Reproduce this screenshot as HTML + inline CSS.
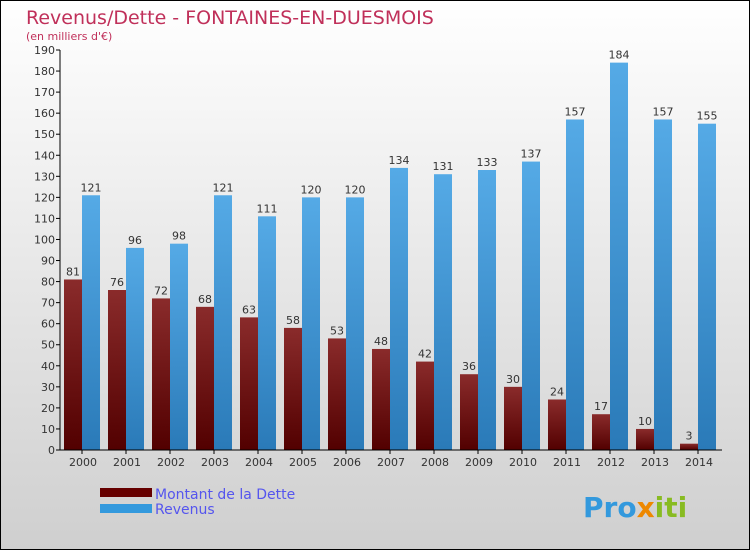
<!DOCTYPE html>
<html><head><meta charset="utf-8"><style>
body{margin:0}
svg{display:block;font-family:"DejaVu Sans","Liberation Sans",sans-serif}
</style></head><body>
<svg id="c" width="750" height="550" viewBox="0 0 750 550">
<defs>
<linearGradient id="bg" x1="0" y1="0" x2="0" y2="1"><stop offset="0" stop-color="#ffffff"/><stop offset="1" stop-color="#cfcfcf"/></linearGradient>
<linearGradient id="gd" x1="0" y1="0" x2="0" y2="1"><stop offset="0" stop-color="#8a2b2b"/><stop offset="1" stop-color="#520000"/></linearGradient>
<linearGradient id="gr" x1="0" y1="0" x2="0" y2="1"><stop offset="0" stop-color="#55aae6"/><stop offset="1" stop-color="#2a7ab8"/></linearGradient>
</defs>
<rect x="0.5" y="0.5" width="749" height="549" fill="url(#bg)" stroke="#000"/>
<text x="26" y="24" font-size="19" fill="#c0305a">Revenus/Dette - FONTAINES-EN-DUESMOIS</text>
<text x="26" y="40" font-size="11" fill="#c0305a">(en milliers d'€)</text>
<g id="plot"></g>
<rect x="100" y="488" width="52" height="9" fill="#660000"/>
<rect x="100" y="504" width="52" height="9" fill="#3399dd"/>
<text x="155" y="499" font-size="14" fill="#5555ee">Montant de la Dette</text>
<text x="155" y="514" font-size="14" fill="#5555ee">Revenus</text>
<text x="583" y="517" font-size="28" font-weight="bold" fill="#3399dd">Pro<tspan fill="#ee8800">x</tspan><tspan fill="#88bb22">iti</tspan></text>
</svg>
<script>
const years=["2000","2001","2002","2003","2004","2005","2006","2007","2008","2009","2010","2011","2012","2013","2014"];
const dette=[81,76,72,68,63,58,53,48,42,36,30,24,17,10,3];
const revenus=[121,96,98,121,111,120,120,134,131,133,137,157,184,157,155];
const yTicks=[0,10,20,30,40,50,60,70,80,90,100,110,120,130,140,150,160,170,180,190];
const NS="http://www.w3.org/2000/svg";
const g=document.getElementById('plot');
const y0=450,yTop=50,yMax=190;
function Y(v){return y0-(v/yMax)*(y0-yTop);}
function X(i){return 64+i*44;}
function mk(t,a,txt){const e=document.createElementNS(NS,t);for(const k in a)e.setAttribute(k,a[k]);if(txt!==undefined)e.textContent=txt;g.appendChild(e);return e;}
yTicks.forEach(v=>{
 const l=mk('line',{x1:56,x2:60,y1:Y(v),y2:Y(v),stroke:'#000'});
 
 
 const t=mk('text',{x:55,y:Y(v)+4,'font-size':11,'text-anchor':'end',fill:'#333'},String(v));
 
 
});
years.forEach((yr,i)=>{
 const x=X(i);
 const b1=mk('rect',{x:x,y:Y(dette[i]),width:18,height:y0-Y(dette[i]),fill:'url(#gd)'});
 
 
 const b2=mk('rect',{x:x+18,y:Y(revenus[i]),width:18,height:y0-Y(revenus[i]),fill:'url(#gr)'});
 
 
 const t1=mk('text',{x:x+9,y:Y(dette[i])-4,'font-size':11,'text-anchor':'middle',fill:'#333'},String(dette[i]));
 
 
 const t2=mk('text',{x:x+27,y:Y(revenus[i])-4,'font-size':11,'text-anchor':'middle',fill:'#333'},String(revenus[i]));
 
 
 const tk=mk('line',{x1:x+18,x2:x+18,y1:y0,y2:y0+4,stroke:'#000'});
 
 
 const xl=mk('text',{x:x+19,y:y0+16,'font-size':11,'text-anchor':'middle',fill:'#333'},yr);
 
 
});
const ax=mk('line',{x1:60,x2:60,y1:yTop,y2:y0,stroke:'#000'});


const bx=mk('line',{x1:60,x2:722,y1:y0,y2:y0,stroke:'#000'});


</script>
</body></html>
